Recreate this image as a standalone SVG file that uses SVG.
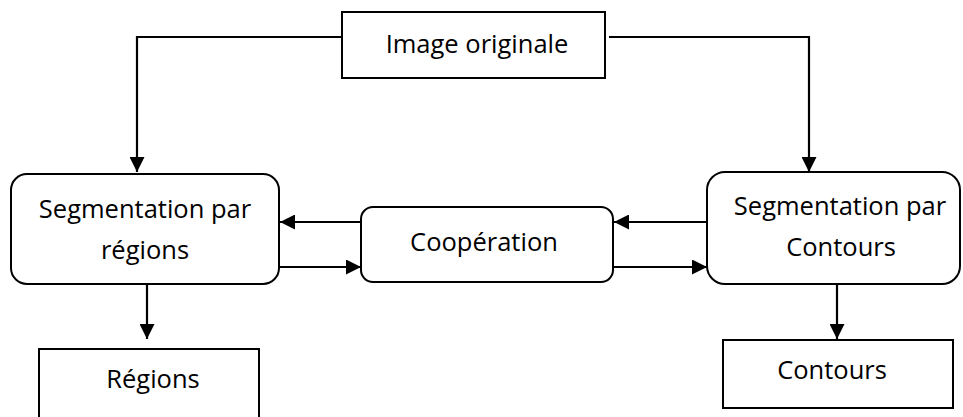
<svg xmlns="http://www.w3.org/2000/svg" width="963" height="417" viewBox="0 0 963 417">
<defs>
<style>
.box{fill:#fff;stroke:#000;stroke-width:2}
.ln{fill:none;stroke:#000;stroke-width:2.2}
.t{font-family:"Open Sans","Noto Sans","Liberation Sans",sans-serif;font-size:25.5px;fill:#000;text-anchor:middle}
</style>
<marker id="ah" viewBox="0 0 10 10" refX="10" refY="5" markerWidth="15" markerHeight="15" markerUnits="userSpaceOnUse" orient="auto">
<path d="M0,0 L10,5 L0,10 Z" fill="#000"/>
</marker>
</defs>
<rect width="963" height="417" fill="#fff"/>
<g id="connectors">
<path class="ln" d="M342,37 H137 V172" marker-end="url(#ah)"/>
<path class="ln" d="M609,37 H809 V172" marker-end="url(#ah)"/>
<path class="ln" d="M361,222 H280" marker-end="url(#ah)"/>
<path class="ln" d="M279,267 H361" marker-end="url(#ah)"/>
<path class="ln" d="M707,222 H614" marker-end="url(#ah)"/>
<path class="ln" d="M613,267 H707" marker-end="url(#ah)"/>
<path class="ln" d="M147,284 V339" marker-end="url(#ah)"/>
<path class="ln" d="M837,284 V339" marker-end="url(#ah)"/>
</g>
<g id="image-originale">
<rect class="box" x="342" y="12" width="263" height="66"/>
<text class="t" x="477" y="53">Image originale</text>
</g>
<g id="seg-regions">
<rect class="box" x="11" y="174" width="268" height="110" rx="16"/>
<text class="t" x="145" y="218">Segmentation par</text>
<text class="t" x="145" y="259">régions</text>
</g>
<g id="cooperation">
<rect class="box" x="361" y="207" width="252" height="75" rx="12"/>
<text class="t" x="484" y="251">Coopération</text>
</g>
<g id="seg-contours">
<rect class="box" x="707" y="172" width="253" height="112" rx="18"/>
<text class="t" x="840" y="215">Segmentation par</text>
<text class="t" x="841" y="256">Contours</text>
</g>
<g id="regions">
<rect class="box" x="39" y="349" width="220" height="80"/>
<text class="t" x="153" y="388">Régions</text>
</g>
<g id="contours">
<rect class="box" x="723" y="340" width="230" height="68"/>
<text class="t" x="832" y="379">Contours</text>
</g>
</svg>
